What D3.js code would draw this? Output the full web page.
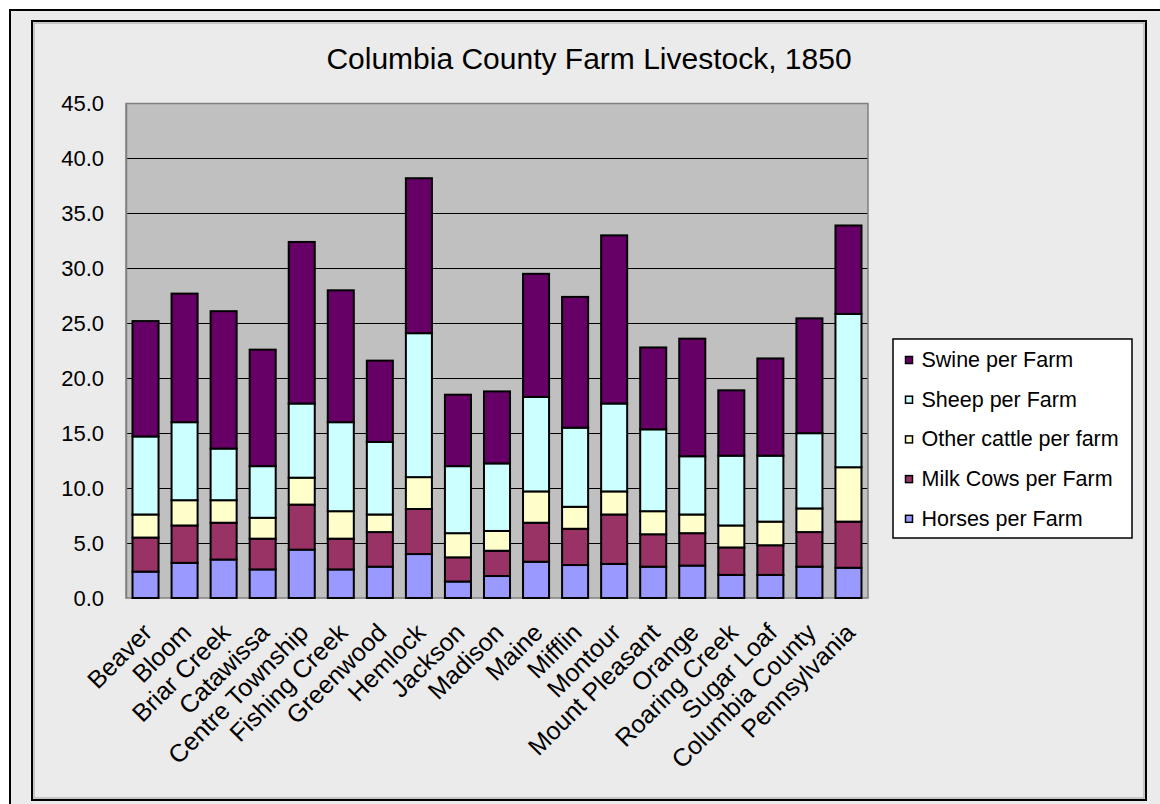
<!DOCTYPE html>
<html>
<head>
<meta charset="utf-8">
<script src="https://cdn.jsdelivr.net/npm/d3@7"></script>
<style>
  html, body { margin: 0; padding: 0; background: #ffffff; }
  svg { display: block; font-family: "Liberation Sans", Arial, sans-serif; }
</style>
</head>
<body>
<svg id="chart" width="1160" height="804"></svg>
<script>
// Townships of Columbia County (plus county and state totals)
const categories = [
  "Beaver", "Bloom", "Briar Creek", "Catawissa", "Centre Township",
  "Fishing Creek", "Greenwood", "Hemlock", "Jackson", "Madison", "Maine",
  "Mifflin", "Montour", "Mount Pleasant", "Orange", "Roaring Creek",
  "Sugar Loaf", "Columbia County", "Pennsylvania"
];

// Livestock per farm, one array per series (stacked bottom to top)
const horses      = [2.4, 3.2, 3.5, 2.6, 4.4, 2.6, 2.85, 4.0, 1.5, 2.0, 3.3, 3.0, 3.1, 2.85, 2.95, 2.1, 2.1, 2.85, 2.75];
const milkCows    = [3.1, 3.4, 3.35, 2.8, 4.1, 2.8, 3.15, 4.1, 2.2, 2.3, 3.55, 3.3, 4.5, 2.95, 2.95, 2.5, 2.7, 3.15, 4.2];
const otherCattle = [2.1, 2.3, 2.05, 1.9, 2.45, 2.5, 1.6, 2.9, 2.2, 1.8, 2.85, 2.0, 2.1, 2.1, 1.7, 2.0, 2.15, 2.15, 4.95];
const sheep       = [7.1, 7.1, 4.7, 4.7, 6.75, 8.1, 6.6, 13.1, 6.1, 6.15, 8.6, 7.2, 8.0, 7.45, 5.3, 6.35, 6.0, 6.85, 13.95];
const swine       = [10.5, 11.7, 12.5, 10.6, 14.7, 12.0, 7.4, 14.1, 6.5, 6.55, 11.2, 11.9, 15.3, 7.45, 10.7, 5.95, 8.85, 10.45, 8.05];

const seriesNames  = ["Horses per Farm", "Milk Cows per Farm", "Other cattle per farm", "Sheep per Farm", "Swine per Farm"];
const seriesColors = ["#9999FF", "#993366", "#FFFFCC", "#CCFFFF", "#660066"];
const yTicks = [0, 5, 10, 15, 20, 25, 30, 35, 40, 45];

const title = "Columbia County Farm Livestock, 1850";

// Table for the stack layout
const seriesData = [horses, milkCows, otherCattle, sheep, swine];
const rows = categories.map((c, i) => {
  const r = { category: c };
  seriesNames.forEach((s, k) => { r[s] = seriesData[k][i]; });
  return r;
});
const stacked = d3.stack().keys(seriesNames)(rows);

const svg = d3.select("#chart");

// Chart frames
svg.append("rect")
  .attr("x", 10).attr("y", 10).attr("width", 1160).attr("height", 804)
  .attr("fill", "#ebebeb").attr("stroke", "#000").attr("stroke-width", 2);
svg.append("rect")
  .attr("x", 32).attr("y", 21).attr("width", 1114).attr("height", 779)
  .attr("fill", "#ebebeb").attr("stroke", "#000").attr("stroke-width", 2);
svg.append("rect")
  .attr("x", 34).attr("y", 23).attr("width", 1110).attr("height", 775)
  .attr("fill", "none").attr("stroke", "#a0a0a0").attr("stroke-width", 1);

// Title
svg.append("text")
  .attr("x", 589).attr("y", 69)
  .attr("text-anchor", "middle")
  .attr("font-size", 30)
  .attr("fill", "#000")
  .text(title);

// Plot area
const plot = { left: 126, right: 868, top: 103.5, bottom: 598 };

const x = d3.scaleBand()
  .domain(categories)
  .range([plot.left, plot.right])
  .paddingInner(1 / 3)
  .paddingOuter(1 / 6);

const y = d3.scaleLinear()
  .domain([0, 45])
  .range([plot.bottom, plot.top]);

svg.append("rect")
  .attr("x", plot.left).attr("y", plot.top)
  .attr("width", plot.right - plot.left).attr("height", plot.bottom - plot.top)
  .attr("fill", "#c0c0c0");

// Gridlines
svg.append("g")
  .selectAll("line")
  .data(yTicks.filter(t => t > 0 && t < 45))
  .join("line")
  .attr("x1", plot.left).attr("x2", plot.right)
  .attr("y1", d => Math.round(y(d)) + 0.5).attr("y2", d => Math.round(y(d)) + 0.5)
  .attr("stroke", "#000").attr("stroke-width", 1);

// Plot border
svg.append("rect")
  .attr("x", plot.left).attr("y", plot.top)
  .attr("width", plot.right - plot.left).attr("height", plot.bottom - plot.top)
  .attr("fill", "none").attr("stroke", "#808080").attr("stroke-width", 1.5);

// Stacked bars
svg.append("g")
  .selectAll("g")
  .data(stacked)
  .join("g")
  .attr("fill", (d, i) => seriesColors[i])
  .selectAll("rect")
  .data(d => d)
  .join("rect")
  .attr("x", d => x(d.data.category))
  .attr("width", x.bandwidth())
  .attr("y", d => y(d[1]))
  .attr("height", d => y(d[0]) - y(d[1]))
  .attr("stroke", "#000")
  .attr("stroke-width", 2);

// Y axis
const yAxis = d3.axisLeft(y)
  .tickValues(yTicks)
  .tickFormat(d3.format(".1f"))
  .tickSize(0)
  .tickPadding(22);

const yg = svg.append("g")
  .attr("transform", `translate(${plot.left},0)`)
  .call(yAxis);
yg.select(".domain").attr("stroke", "#808080").attr("stroke-width", 1.5);
yg.selectAll("text")
  .attr("font-size", 22)
  .attr("font-family", "Liberation Sans, Arial, sans-serif")
  .attr("fill", "#000");

// X axis with rotated category labels
const xAxis = d3.axisBottom(x).tickSize(0).tickPadding(0);
const xg = svg.append("g")
  .attr("transform", `translate(0,${plot.bottom})`)
  .call(xAxis);
xg.select(".domain").remove();
xg.selectAll(".tick text")
  .attr("font-size", 25)
  .attr("font-family", "Liberation Sans, Arial, sans-serif")
  .attr("fill", "#000")
  .attr("text-anchor", "end")
  .attr("y", 0)
  .attr("dy", "0.35em")
  .attr("transform", "translate(2,30) rotate(-45)");

// Legend (top entry is the top of the stack)
const legend = svg.append("g").attr("transform", "translate(893,339)");
legend.append("rect")
  .attr("width", 239).attr("height", 199)
  .attr("fill", "#fff").attr("stroke", "#000").attr("stroke-width", 1.5);

const legendOrder = seriesNames.map((n, i) => ({ name: n, color: seriesColors[i] })).reverse();
const items = legend.selectAll("g.item")
  .data(legendOrder)
  .join("g")
  .attr("class", "item")
  .attr("transform", (d, i) => `translate(0,${28 + i * 39.7})`);
items.append("rect")
  .attr("x", 12.5).attr("y", -10.5).attr("width", 7).attr("height", 7)
  .attr("fill", d => d.color).attr("stroke", "#000").attr("stroke-width", 1.5);
items.append("text")
  .attr("x", 28.5).attr("y", 0)
  .attr("font-size", 21.5)
  .attr("fill", "#000")
  .text(d => d.name);
</script>
</body>
</html>
